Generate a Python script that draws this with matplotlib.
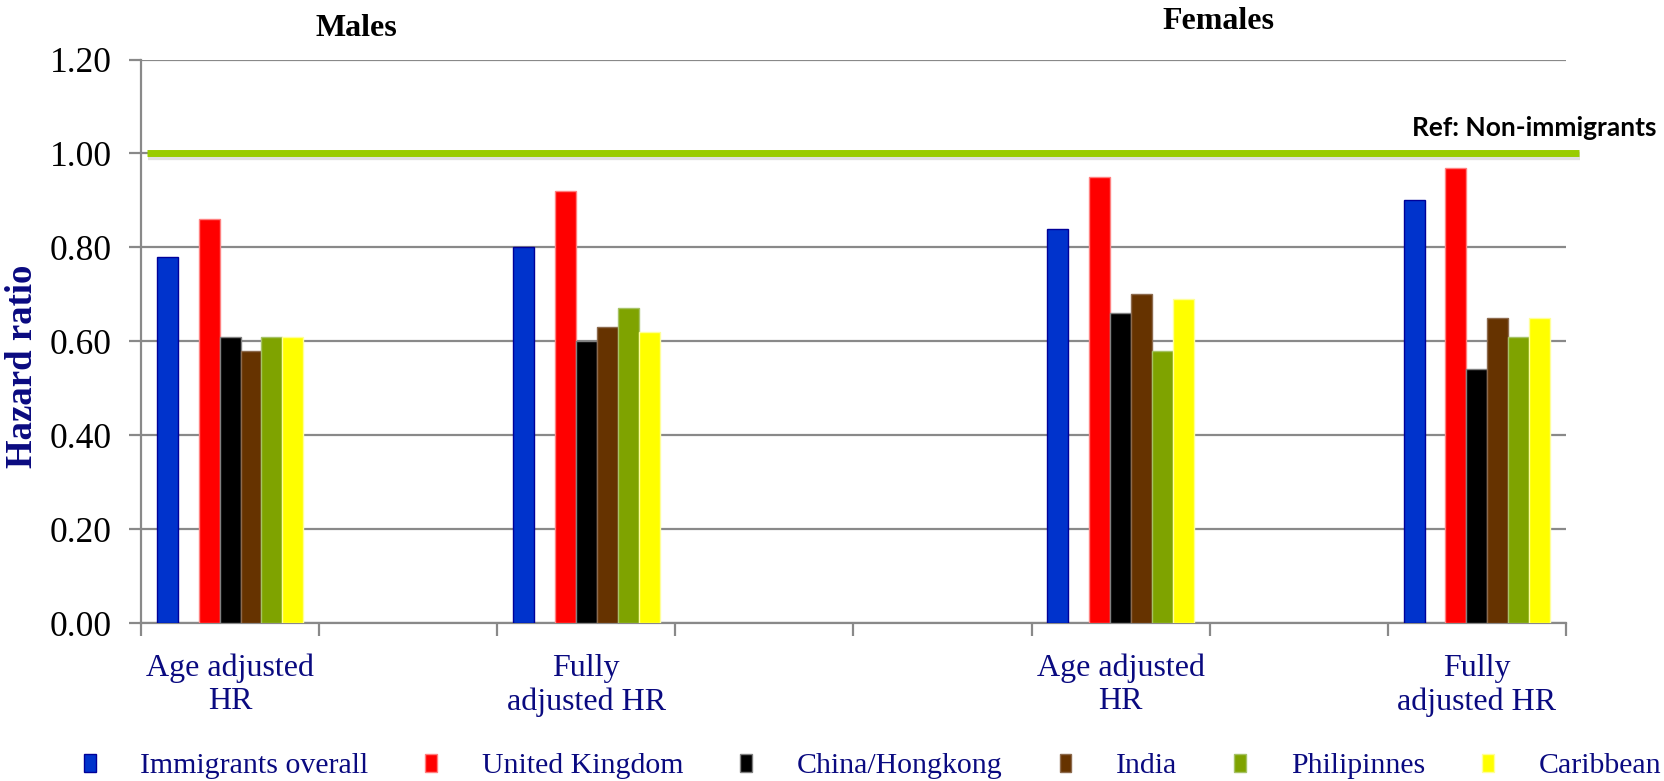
import matplotlib

matplotlib.use("Agg")
import matplotlib.pyplot as plt
import matplotlib.transforms as mtransforms
import numpy as np
from matplotlib.patches import Patch

# hazard ratios, one list per country group
groups = ["Age adjusted\nHR", "Fully\nadjusted HR", "Age adjusted\nHR", "Fully\nadjusted HR"]
panels = ["Males", "Females"]
series = ["Immigrants overall", "United Kingdom", "China/Hongkong",
          "India", "Philipinnes", "Caribbean"]
immigrants = [0.78, 0.80, 0.84, 0.90]
united_kingdom = [0.86, 0.92, 0.95, 0.97]
china = [0.61, 0.60, 0.66, 0.54]
india = [0.58, 0.63, 0.70, 0.65]
philippines = [0.61, 0.67, 0.58, 0.61]
caribbean = [0.61, 0.62, 0.69, 0.65]
y_ticks = [0.0, 0.2, 0.4, 0.6, 0.8, 1.0, 1.2]
ref_value = 1.0
ref_label = "Ref: Non-immigrants"

FACE = ["#0033CC", "#FF0000", "#000000", "#663300", "#7FA300", "#FFFF00"]
EDGE = ["#000099", "#FF8080", "#808080", "#8C6A4D", "#A6C266", "#FFFF99"]
NAVY = "#0A0A80"
SERIF = "Liberation Serif"

N_SLOTS = 8
GROUP_SLOTS = [0, 2, 5, 7]      # empty slots sit between and around groups
BAR_POS = [0, 2, 3, 4, 5, 6]    # position index inside a slot (7 positions, one unused)
BAR_W = 0.1175

fig = plt.figure(figsize=(16.65, 7.81), dpi=100)
ax = fig.add_axes([0.0847, 0.2023, 0.8558, 0.7215])

values = [immigrants, united_kingdom, china, india, philippines, caribbean]
slots = np.array(GROUP_SLOTS, dtype=float)
for vals, pos, fc, ec, name in zip(values, BAR_POS, FACE, EDGE, series):
    x = slots + (pos - 3) * BAR_W
    ax.bar(x, vals, width=BAR_W, color=fc, edgecolor=ec, linewidth=1.0,
           label=name, zorder=3)

ax.set_xlim(-0.5, N_SLOTS - 0.5)
ax.set_ylim(0, 1.2)
ax.set_yticks(y_ticks)
ax.set_yticklabels([f"{v:.2f}" for v in y_ticks], fontsize=25.5, family=SERIF)
ax.yaxis.grid(True, color="#898989", linewidth=1.6, zorder=0)
ax.set_axisbelow(True)

ax.set_xticks(np.arange(N_SLOTS + 1) - 0.5)
ax.set_xticklabels([])
ax.set_xticks(slots, minor=True)
ax.set_xticklabels(groups, minor=True, fontsize=23, family=SERIF,
                   color=NAVY, linespacing=1.2)
ax.tick_params(axis="x", which="minor", length=0, pad=22)
ax.tick_params(axis="both", which="major", length=9, width=1.6,
               color="#898989", direction="out")
ax.tick_params(axis="y", pad=12)

for side in ("top", "right"):
    ax.spines[side].set_visible(False)
for side in ("left", "bottom"):
    ax.spines[side].set_color("#898989")
    ax.spines[side].set_linewidth(1.6)

ax.set_ylabel("Hazard ratio", fontsize=26.5, family=SERIF, fontweight="bold",
              color=NAVY, va="center")
ax.yaxis.set_label_coords(-0.083, 0.456)

# reference line drawn across (and a little past) the plot, with soft shadow
trans = mtransforms.blended_transform_factory(ax.transAxes, ax.transData)
shadow = mtransforms.offset_copy(trans, fig=fig, x=1, y=-3, units="dots")
ax.plot([0.004, 1.009], [ref_value, ref_value], transform=shadow,
        color="#000000", alpha=0.12, linewidth=6, clip_on=False, zorder=4,
        solid_capstyle="butt")
ax.plot([0.004, 1.009], [ref_value, ref_value], transform=trans,
        color="#99CC00", linewidth=5, clip_on=False, zorder=5,
        solid_capstyle="butt")
fig.text(0.995, 0.836, ref_label, ha="right", va="center", fontsize=19,
         fontweight="bold", family="Lato")

fig.text(0.214, 0.963, panels[0], ha="center", va="center", fontsize=23,
         fontweight="bold", family=SERIF)
fig.text(0.732, 0.972, panels[1], ha="center", va="center", fontsize=23,
         fontweight="bold", family=SERIF)

handles = [Patch(facecolor=fc, edgecolor=ec, linewidth=1.0)
           for fc, ec in zip(FACE, EDGE)]
fig.legend(handles, series, loc="center", bbox_to_anchor=(0.524, 0.019),
           ncol=6, frameon=False, handlelength=0.4, handleheight=0.55,
           handletextpad=1.5, columnspacing=1.9,
           prop={"family": SERIF, "size": 21.5}, labelcolor=NAVY)

fig.savefig("out.png", dpi=100)
